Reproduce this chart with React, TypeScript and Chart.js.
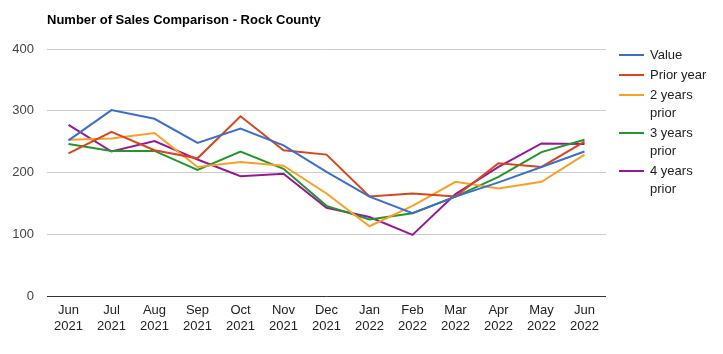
import React, { useEffect, useRef } from "react";
import { Chart, registerables } from "chart.js";

Chart.register(...registerables);

const TITLE = "Number of Sales Comparison - Rock County";
const categories: string[][] = [
  ["Jun", "2021"], ["Jul", "2021"], ["Aug", "2021"], ["Sep", "2021"], ["Oct", "2021"],
  ["Nov", "2021"], ["Dec", "2021"], ["Jan", "2022"], ["Feb", "2022"], ["Mar", "2022"],
  ["Apr", "2022"], ["May", "2022"], ["Jun", "2022"],
];
const seriesLabels = ["Value", "Prior year", "2 years prior", "3 years prior", "4 years prior"];
const valueSeries = [252, 301, 287, 248, 271, 244, 201, 161, 134, 161, 184, 209, 234];
const priorYear = [231, 266, 236, 223, 291, 236, 229, 161, 166, 161, 215, 209, 250];
const twoYearsPrior = [253, 255, 264, 209, 217, 211, 166, 113, 146, 185, 174, 185, 229];
const threeYearsPrior = [246, 235, 235, 204, 234, 206, 146, 124, 134, 161, 193, 233, 253];
const fourYearsPrior = [277, 234, 251, 221, 194, 198, 143, 128, 99, 165, 209, 247, 246];
const yTicks = [0, 100, 200, 300, 400];
const colors = ["#3d6ecb", "#d8461d", "#f8a027", "#23962b", "#951996"];

const FONT = "Arial, 'Liberation Sans', sans-serif";

const titlePlugin = {
  id: "customTitle",
  afterDraw(chart: any) {
    const ctx = chart.ctx;
    ctx.save();
    ctx.font = `bold 13px ${FONT}`;
    ctx.fillStyle = "#000";
    ctx.textAlign = "left";
    ctx.textBaseline = "middle";
    ctx.fillText(TITLE, chart.chartArea.left, 20);
    ctx.restore();
  },
};

const legendPlugin = {
  id: "customLegend",
  afterDraw(chart: any) {
    const ctx = chart.ctx;
    ctx.save();
    ctx.font = `13px ${FONT}`;
    ctx.textAlign = "left";
    ctx.textBaseline = "middle";
    let y = 55;
    chart.data.datasets.forEach((ds: any) => {
      const words: string[] = ds.label.split(" ");
      const lines: string[] = [];
      if (words.length > 2) {
        lines.push(words.slice(0, 2).join(" "));
        lines.push(words.slice(2).join(" "));
      } else {
        lines.push(ds.label);
      }
      ctx.strokeStyle = ds.borderColor;
      ctx.lineWidth = 2;
      ctx.beginPath();
      ctx.moveTo(619, y);
      ctx.lineTo(644, y);
      ctx.stroke();
      ctx.fillStyle = "#222";
      lines.forEach((ln, i) => ctx.fillText(ln, 650, y + i * 18));
      y += 20 + (lines.length - 1) * 18;
    });
    ctx.restore();
  },
};

export default function App() {
  const ref = useRef<HTMLCanvasElement>(null);
  useEffect(() => {
    const data = [valueSeries, priorYear, twoYearsPrior, threeYearsPrior, fourYearsPrior];
    const chart = new Chart(ref.current!, {
      type: "line",
      data: {
        labels: categories,
        datasets: seriesLabels.map((label, i) => ({
          label,
          data: data[i],
          borderColor: colors[i],
          backgroundColor: colors[i],
          borderWidth: 2,
          pointRadius: 0,
          tension: 0,
          fill: false,
        })),
      },
      options: {
        responsive: false,
        animation: false,
        layout: { padding: { left: 0, right: 117, top: 49, bottom: 0 } },
        plugins: { legend: { display: false }, title: { display: false }, tooltip: { enabled: false } },
        scales: {
          x: {
            offset: true,
            grid: { display: false, drawTicks: false },
            border: { display: false },
            ticks: { color: "#222", font: { family: FONT, size: 13 }, padding: 7, maxRotation: 0, autoSkip: false },
            afterFit: (s: any) => { s.height = 58; },
          },
          y: {
            min: 0,
            max: 400,
            afterBuildTicks: (s: any) => { s.ticks = yTicks.map((v) => ({ value: v })); },
            grid: {
              drawTicks: false,
              color: (c: any) => (c.tick && c.tick.value === 0 ? "#333333" : "#cccccc"),
              lineWidth: 1,
            },
            border: { display: false },
            ticks: { color: "#444", font: { family: FONT, size: 13 }, padding: 13 },
            afterFit: (s: any) => { s.width = 47; },
          },
        },
      },
      plugins: [titlePlugin, legendPlugin],
    });
    return () => chart.destroy();
  }, []);
  return (
    <div style={{ position: "fixed", left: 0, top: 0, width: 723, height: 354, background: "#fff" }}>
      <canvas ref={ref} width={723} height={354} style={{ width: 723, height: 354 }} />
    </div>
  );
}
